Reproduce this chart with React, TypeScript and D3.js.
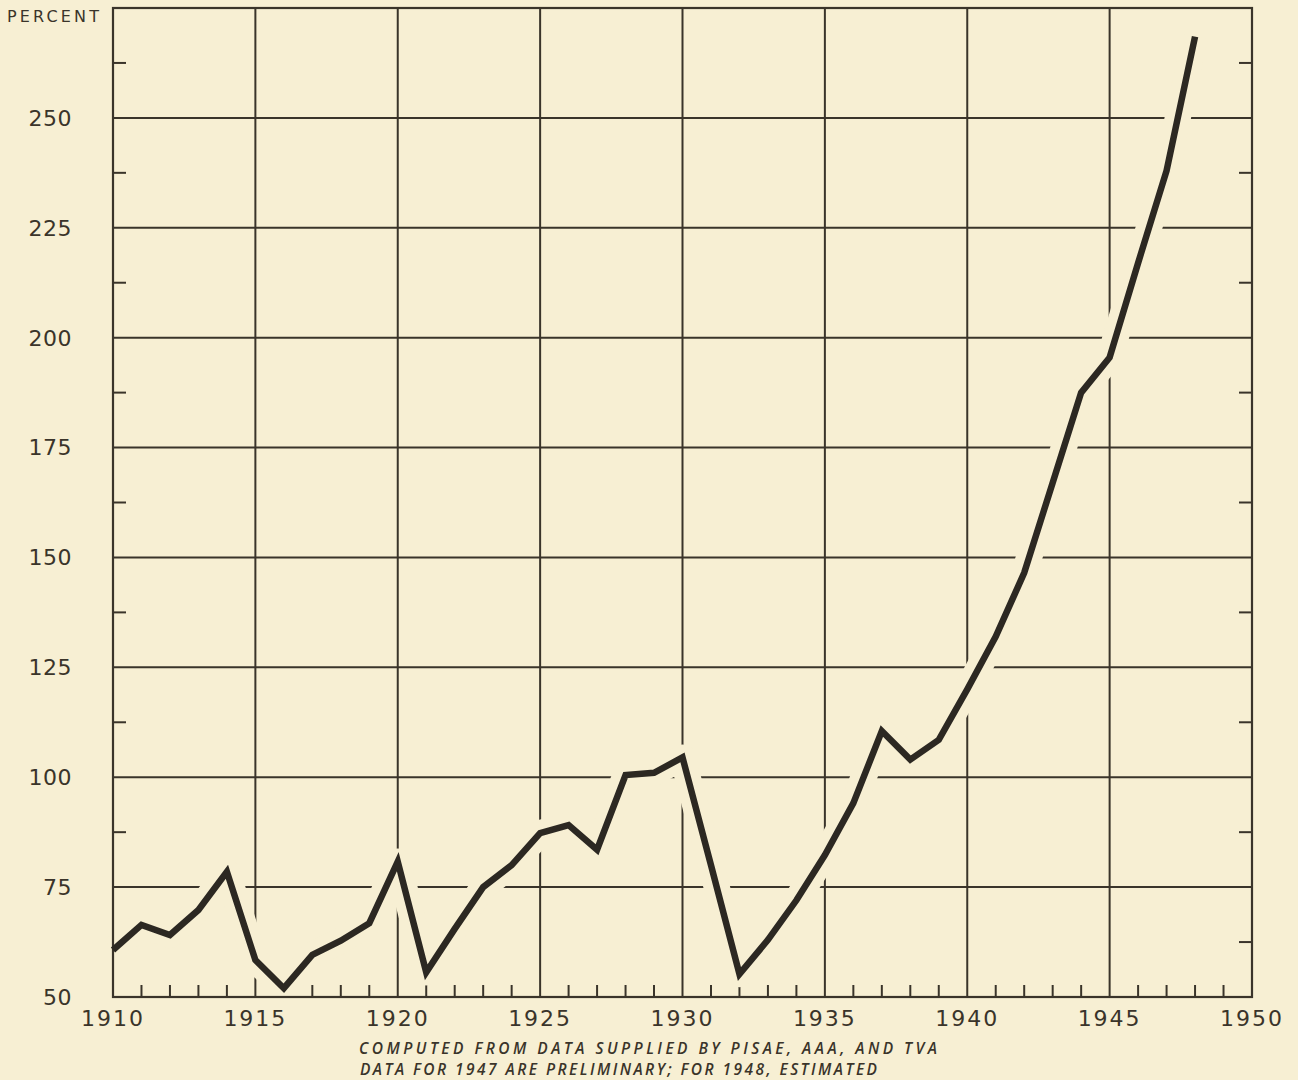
import React from "react";
import * as d3 from "d3";

const years: number[] = [
  1910, 1911, 1912, 1913, 1914, 1915, 1916, 1917, 1918, 1919,
  1920, 1921, 1922, 1923, 1924, 1925, 1926, 1927, 1928, 1929,
  1930, 1931, 1932, 1933, 1934, 1935, 1936, 1937, 1938, 1939,
  1940, 1941, 1942, 1943, 1944, 1945, 1946, 1947, 1948,
];
const percents: number[] = [
  60.7, 66.4, 64.1, 69.8, 78.5, 58.4, 52.0, 59.6, 62.8, 66.8,
  80.8, 55.6, 65.5, 75.0, 80.0, 87.3, 89.1, 83.5, 100.5, 101.0,
  104.5, 80.0, 55.2, 63.0, 72.0, 82.3, 94.1, 110.5, 104.0, 108.5,
  120.0, 132.0, 146.5, 167.0, 187.5, 195.5, 217.0, 238.0, 268.5,
];
const yTickLabels: number[] = [50, 75, 100, 125, 150, 175, 200, 225, 250];
const xTickLabels: number[] = [1910, 1915, 1920, 1925, 1930, 1935, 1940, 1945, 1950];
const yAxisTitle = "PERCENT";
const notes: string[] = [
  "COMPUTED FROM DATA SUPPLIED BY PISAE, AAA, AND TVA",
  "DATA FOR 1947 ARE PRELIMINARY; FOR 1948, ESTIMATED",
];

const W = 1298;
const H = 1080;
const BG = "#f7efd3";
const INK = "#3a342a";
const LINE = "#2c2822";
const FONT = "'DejaVu Sans', sans-serif";

export default function App() {
  const left = 113, right = 1252, top = 8, bottom = 997;
  const x = d3.scaleLinear().domain([1910, 1950]).range([left, right]);
  const y = d3.scaleLinear().domain([50, 275]).range([bottom, top]);

  const data = years.map((yr, i) => ({ yr, v: percents[i] }));
  const line = d3
    .line<{ yr: number; v: number }>()
    .x((d) => x(d.yr))
    .y((d) => y(d.v));
  const path = line(data) || "";

  const gridY = d3.range(75, 275, 25);
  const gridX = d3.range(1915, 1950, 5);
  const minorY = d3.range(62.5, 275, 25);
  const minorX = d3.range(1911, 1950, 1).filter((v) => v % 5 !== 0);

  return (
    <svg
      width={W}
      height={H}
      style={{ position: "absolute", left: 0, top: 0, background: BG }}
    >
      <rect x={0} y={0} width={W} height={H} fill={BG} />
      {/* grid */}
      <g stroke={INK} strokeWidth={2} fill="none">
        {gridY.map((v) => (
          <line key={"gy" + v} x1={left} x2={right} y1={y(v)} y2={y(v)} />
        ))}
        {gridX.map((v) => (
          <line key={"gx" + v} x1={x(v)} x2={x(v)} y1={top} y2={bottom} />
        ))}
        {minorY.map((v) => (
          <g key={"my" + v}>
            <line x1={left} x2={left + 13} y1={y(v)} y2={y(v)} />
            <line x1={right - 13} x2={right} y1={y(v)} y2={y(v)} />
          </g>
        ))}
        {minorX.map((v) => (
          <line key={"mx" + v} x1={x(v)} x2={x(v)} y1={bottom} y2={bottom - 12} />
        ))}
      </g>
      {/* knock-out halo round the curve */}
      <path
        d={path}
        fill="none"
        stroke={BG}
        strokeWidth={26}
        strokeLinejoin="round"
        strokeLinecap="butt"
      />
      {/* frame */}
      <rect
        x={left}
        y={top}
        width={right - left}
        height={bottom - top}
        fill="none"
        stroke={INK}
        strokeWidth={2.2}
      />
      {/* data line */}
      <path
        d={path}
        fill="none"
        stroke={LINE}
        strokeWidth={6.5}
        strokeLinejoin="miter"
        strokeLinecap="butt"
      />
      {/* y labels */}
      <g fill={INK} fontFamily={FONT} fontSize={22} textAnchor="end">
        {yTickLabels.map((v) => (
          <text key={"yl" + v} x={72} y={y(v)} dy="0.36em" letterSpacing={0.5}>
            {v}
          </text>
        ))}
      </g>
      <text
        x={7}
        y={22}
        fill={INK}
        fontFamily={FONT}
        fontSize={16}
        textLength={92}
        lengthAdjust="spacing"
      >
        {yAxisTitle}
      </text>
      {/* x labels */}
      <g fill={INK} fontFamily={FONT} fontSize={22} textAnchor="middle">
        {xTickLabels.map((v) => (
          <text key={"xl" + v} x={x(v)} y={1026} letterSpacing={2}>
            {v}
          </text>
        ))}
      </g>
      {/* notes */}
      <g
        fill={INK}
        fontFamily="'Open Sans', sans-serif"
        fontWeight={600}
        fontSize={15.5}
        fontStyle="italic"
      >
        <text x={359} y={1054} textLength={578} lengthAdjust="spacing">
          {notes[0]}
        </text>
        <text x={360} y={1075} textLength={517} lengthAdjust="spacing">
          {notes[1]}
        </text>
      </g>
    </svg>
  );
}
